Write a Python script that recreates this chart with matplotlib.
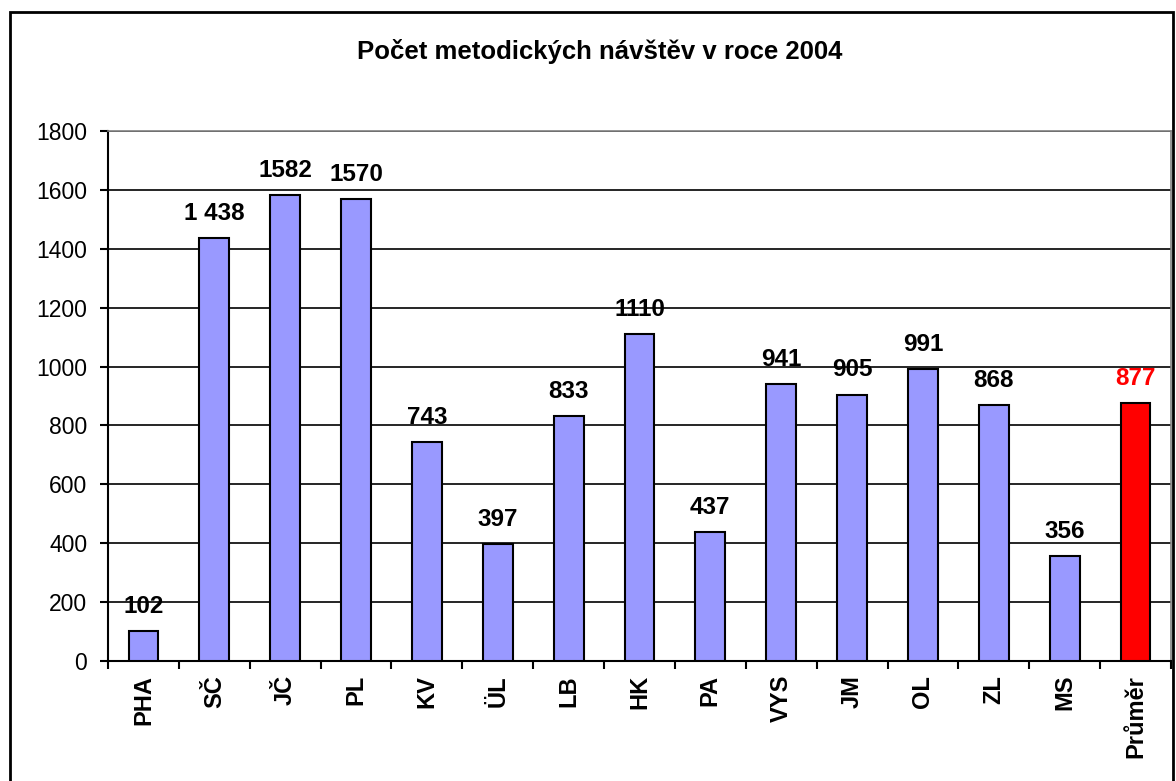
import matplotlib.pyplot as plt
from matplotlib.patches import Rectangle
import numpy as np

plt.rcParams["font.family"] = ["Liberation Sans", "DejaVu Sans"]

regions = ["PHA", "SČ", "JČ", "PL", "KV", "ÜL", "LB", "HK", "PA", "VYS",
           "JM", "OL", "ZL", "MS", "Průměr"]
visits = [102, 1438, 1582, 1570, 743, 397, 833, 1110, 437, 941,
          905, 991, 868, 356, 877]
value_labels = ["102", "1 438", "1582", "1570", "743", "397", "833", "1110",
                "437", "941", "905", "991", "868", "356", "877"]
y_ticks = [0, 200, 400, 600, 800, 1000, 1200, 1400, 1600, 1800]

W, H = 1176, 781
fig = plt.figure(figsize=(W / 100, H / 100), dpi=100)
ax = fig.add_axes([108 / W, 1 - 661 / H, (1171 - 108) / W, (661 - 131) / H])

x = np.arange(len(regions))
colors = ["#9999FF"] * (len(regions) - 1) + ["#FF0000"]
ax.bar(x, visits, width=0.42, color=colors, edgecolor="black",
       linewidth=1.5, zorder=3)

# value labels above bars
for xi, v, lab, c in zip(x, visits, value_labels, colors):
    tc = "#FF0000" if c == "#FF0000" else "black"
    ax.annotate(lab, (xi, v), xytext=(0, 13), textcoords="offset points",
                ha="center", va="baseline", fontsize=17.5, fontweight="bold",
                color=tc, zorder=5)

ax.set_xlim(-0.5, len(regions) - 0.5)
ax.set_ylim(0, 1800)
ax.set_yticks(y_ticks)
ax.set_yticklabels([str(t) for t in y_ticks], fontsize=16.5)
ax.yaxis.grid(True, color="black", linewidth=1.2, zorder=0)
ax.tick_params(axis="y", length=6, width=1.5, pad=9, direction="out")

ax.set_xticks(x)
ax.set_xticklabels(regions, rotation=90, fontsize=17, fontweight="bold")
ax.tick_params(axis="x", which="major", length=0, pad=10)
ax.set_xticks(np.arange(-0.5, len(regions), 1.0), minor=True)
ax.tick_params(axis="x", which="minor", length=6, width=1.5, direction="out")

ax.spines["left"].set_linewidth(1.5)
ax.spines["bottom"].set_linewidth(1.5)
ax.spines["top"].set_color("#808080")
ax.spines["right"].set_color("#808080")
ax.spines["top"].set_linewidth(1.2)
ax.spines["right"].set_linewidth(1.2)

fig.text(600 / W, 1 - 51 / H, "Počet metodických návštěv v roce 2004",
         ha="center", va="center", fontsize=18.5, fontweight="bold")

# outer chart frame
fig.patches.append(Rectangle((9.5 / W, -0.05), (1172.5 - 9.5) / W,
                             1.05 - 12 / H, transform=fig.transFigure,
                             fill=False, edgecolor="black", linewidth=2))

fig.savefig("out.png", dpi=100)
